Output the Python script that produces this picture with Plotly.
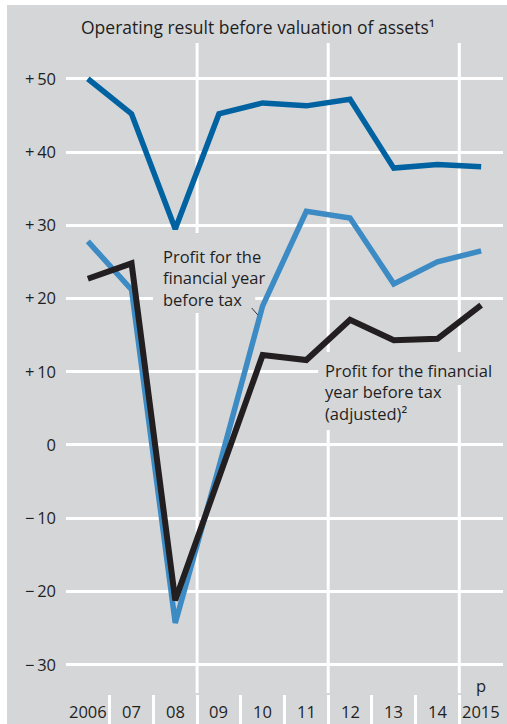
import plotly.graph_objects as go

# ---- data ----
years = ["2006", "07", "08", "09", "10", "11", "12", "13", "14", "2015"]
operating_result = [50.0, 45.2, 29.5, 45.2, 46.7, 46.3, 47.2, 37.8, 38.3, 38.0]
profit_before_tax = [27.8, 21.2, -24.3, -3.0, 19.0, 31.9, 31.0, 22.0, 25.0, 26.5]
profit_adjusted = [22.7, 24.8, -21.2, -4.5, 12.3, 11.6, 17.1, 14.3, 14.5, 19.1]
ytick_vals = [-30, -20, -10, 0, 10, 20, 30, 40, 50]
ytick_text = ["\u2212\u200930", "\u2212\u200920", "\u2212\u200910", "0",
              "+\u200910", "+\u200920", "+\u200930", "+\u200940", "+\u200950"]

GRAY = "#d5d6d8"
FONT = "Open Sans"
TXT = "#1f1f1f"
FS = 16.5

fig = go.Figure()
fig.add_trace(go.Scatter(x=years, y=operating_result, mode="lines",
                         line=dict(color="#0062a1", width=5.5), hoverinfo="skip"))
fig.add_trace(go.Scatter(x=years, y=profit_before_tax, mode="lines",
                         line=dict(color="#3c8bc5", width=5.5), hoverinfo="skip"))
fig.add_trace(go.Scatter(x=years, y=profit_adjusted, mode="lines",
                         line=dict(color="#231f20", width=6), hoverinfo="skip"))

shapes = []
# vertical white guide lines
for xv in [2.5, 5.5, 8.5]:
    shapes.append(dict(type="line", xref="x", yref="y", x0=xv, x1=xv, y0=-33.86, y1=54.88,
                       line=dict(color="white", width=3), layer="between"))
# gray boxes behind labels
for (x0, x1, y0, y1) in [(1.49, 3.83, 18.02, 28.94), (5.27, 9.5, 8.19, 12.7), (5.27, 8.4, 2.05, 8.19)]:
    shapes.append(dict(type="rect", xref="x", yref="y", x0=x0, x1=x1, y0=y0, y1=y1,
                       fillcolor=GRAY, line=dict(width=0), layer="between"))
# leader line
shapes.append(dict(type="line", xref="x", yref="y", x0=3.75, y0=18.7, x1=3.89, y1=17.75,
                   line=dict(color="#333333", width=1), layer="above"))
# white strips at top/left edge of panel
shapes.append(dict(type="rect", xref="paper", yref="paper", x0=-66/437, x1=-59/437, y0=-0.01, y1=1.1,
                   fillcolor="white", line=dict(width=0), layer="above"))
shapes.append(dict(type="rect", xref="paper", yref="paper", x0=-0.2, x1=1.1, y0=1 + 38/681, y1=1 + 44/681,
                   fillcolor="white", line=dict(width=0), layer="above"))

annotations = []
annotations.append(dict(text="Operating result before valuation of assets\u00b9", xref="paper", yref="paper",
                        x=0.439, y=1 + 16/681, xanchor="center", yanchor="middle", showarrow=False,
                        font=dict(family=FONT, size=17.5, color=TXT)))
annotations.append(dict(text="Profit for the<br>financial year<br>before tax", xref="x", yref="y",
                        x=1.68, y=27.6, xanchor="left", yanchor="top", align="left", showarrow=False,
                        font=dict(family=FONT, size=FS, color=TXT)))
annotations.append(dict(text="Profit for the financial<br>year before tax<br>(adjusted)\u00b2", xref="x", yref="y",
                        x=5.39, y=12.0, xanchor="left", yanchor="top", align="left", showarrow=False,
                        font=dict(family=FONT, size=FS, color=TXT)))
for i, yr in enumerate(years):
    annotations.append(dict(text=yr, xref="x", yref="paper", x=i, y=13/681, xanchor="center",
                            yanchor="middle", showarrow=False, font=dict(family=FONT, size=FS, color=TXT)))
annotations.append(dict(text="p", xref="x", yref="paper", x=9, y=39/681, xanchor="center",
                        yanchor="middle", showarrow=False, font=dict(family=FONT, size=FS, color=TXT)))

fig.update_layout(
    width=507, height=724,
    margin=dict(l=66, r=4, t=43, b=0),
    paper_bgcolor=GRAY, plot_bgcolor=GRAY,
    showlegend=False,
    shapes=shapes, annotations=annotations,
    xaxis=dict(type="category", categoryorder="array", categoryarray=years,
               range=[-0.5, 9.5], showgrid=False, zeroline=False, showline=False,
               tickson="boundaries", ticks="inside", ticklen=29, tickwidth=3, tickcolor="white",
               showticklabels=False, fixedrange=True),
    yaxis=dict(range=[-38.09, 54.88], tickvals=ytick_vals, ticktext=ytick_text,
               showgrid=True, gridcolor="white", gridwidth=3, zeroline=False, showline=False,
               ticks="", ticklabelstandoff=9,
               tickfont=dict(family=FONT, size=FS, color=TXT), fixedrange=True),
)

fig.write_html("out.html")
